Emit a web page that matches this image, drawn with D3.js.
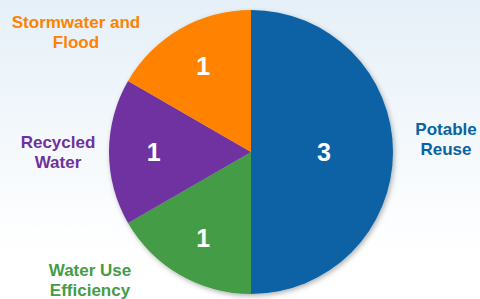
<!DOCTYPE html>
<html>
<head>
<meta charset="utf-8">
<script src="https://cdn.jsdelivr.net/npm/d3@7"></script>
<style>
  body { margin: 0; }
  text { font-family: "Liberation Sans", Arial, sans-serif; font-weight: bold; }
</style>
</head>
<body>
<div id="chart"></div>
<script>
// Data
const categories = ["Potable Reuse", "Water Use Efficiency", "Recycled Water", "Stormwater and Flood"];
const counts = [3, 1, 1, 1];
const colors = ["#0862a6", "#449c47", "#7030a0", "#ff8200"];
const labelLines = [["Potable", "Reuse"], ["Water Use", "Efficiency"], ["Recycled", "Water"], ["Stormwater and", "Flood"]];

const width = 480, height = 299;
const cx = 251, cy = 152, radius = 142;

const svg = d3.select("#chart")
    .append("svg")
    .attr("width", width)
    .attr("height", height);

const defs = svg.append("defs");
const grad = defs.append("linearGradient")
    .attr("id", "bg")
    .attr("x1", 0).attr("y1", 0).attr("x2", 0).attr("y2", 1);
grad.append("stop").attr("offset", "0%").attr("stop-color", "#e6f0f8");
grad.append("stop").attr("offset", "85%").attr("stop-color", "#ffffff");

const shadow = defs.append("filter")
    .attr("id", "shadow")
    .attr("x", "-10%").attr("y", "-10%")
    .attr("width", "120%").attr("height", "120%");
shadow.append("feDropShadow")
    .attr("dx", 1.5).attr("dy", 2)
    .attr("stdDeviation", 2.5)
    .attr("flood-color", "#000")
    .attr("flood-opacity", 0.3);

// Background
svg.append("rect")
    .attr("width", width)
    .attr("height", height)
    .attr("fill", "url(#bg)");

// Faint background caption
svg.append("text")
    .attr("x", 1)
    .attr("y", 236)
    .attr("font-size", 17)
    .attr("fill", "#ffffff")
    .text("Water Supply");

const pie = d3.pie().sort(null).value(d => d)(counts);

const arc = d3.arc().innerRadius(0).outerRadius(radius);

const g = svg.append("g")
    .attr("transform", `translate(${cx},${cy})`);

g.append("g")
    .attr("filter", "url(#shadow)")
    .selectAll("path")
    .data(pie)
    .enter().append("path")
    .attr("d", arc)
    .attr("fill", (d, i) => colors[i]);

// Value labels inside slices
const labelArc = d => {
    const r = (d.endAngle - d.startAngle) > Math.PI * 0.9 ? radius * 0.5 : radius * 0.7;
    return d3.arc().innerRadius(r).outerRadius(r).centroid(d);
};

g.selectAll(".value")
    .data(pie)
    .enter().append("text")
    .attr("class", "value")
    .attr("x", d => labelArc(d)[0] + 2)
    .attr("y", d => labelArc(d)[1])
    .attr("dy", "0.36em")
    .attr("text-anchor", "middle")
    .attr("font-size", 25)
    .attr("fill", "#ffffff")
    .text(d => d.data);

// Category labels outside
const outerPos = [[446, 135], [90, 276], [58, 148], [76, 28]];

svg.selectAll(".cat")
    .data(categories)
    .enter().append("text")
    .attr("class", "cat")
    .attr("text-anchor", "middle")
    .attr("font-size", 17)
    .attr("fill", (d, i) => colors[i])
    .each(function (d, i) {
        const t = d3.select(this);
        labelLines[i].forEach((line, j) => {
            t.append("tspan")
                .attr("x", outerPos[i][0])
                .attr("y", outerPos[i][1] + j * 20)
                .text(line);
        });
    });
</script>
</body>
</html>
